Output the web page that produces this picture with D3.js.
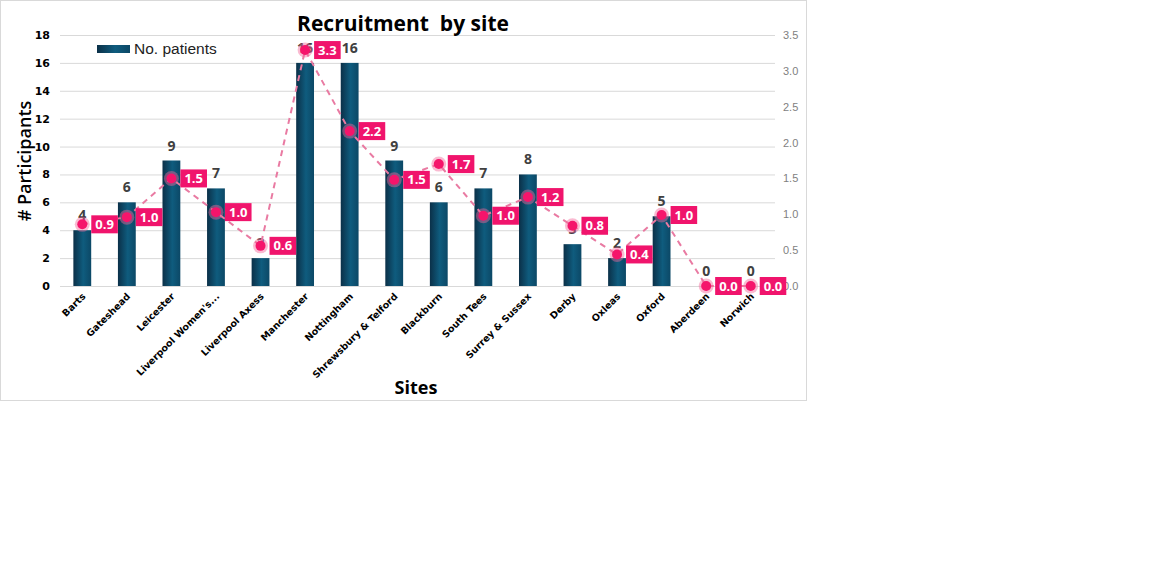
<!DOCTYPE html>
<html><head><meta charset="utf-8">
<script src="https://cdn.jsdelivr.net/npm/d3@7/dist/d3.min.js"></script>
<style>
body{margin:0;background:#fff;}
svg{display:block;}
</style></head>
<body>
<svg id="chart" width="1151" height="564"></svg>
<script>
const sites = ["Barts","Gateshead","Leicester","Liverpool Women's...","Liverpool Axess","Manchester","Nottingham","Shrewsbury & Telford","Blackburn","South Tees","Surrey & Sussex","Derby","Oxleas","Oxford","Aberdeen","Norwich"];
const patients = [4,6,9,7,2,16,16,9,6,7,8,3,2,5,0,0];
const rate = [0.86,0.96,1.5,1.03,0.56,3.29,2.16,1.48,1.7,0.98,1.24,0.84,0.44,0.99,0,0];
const leftTicks = [0,2,4,6,8,10,12,14,16,18];
const rightTicks = [0,0.5,1,1.5,2,2.5,3,3.5];

const svg = d3.select("#chart");
const W = 806, H = 400;
const L = 60, R = 773, T = 35, B = 286;

svg.append("rect").attr("x",0.5).attr("y",0.5).attr("width",W).attr("height",H)
  .attr("fill","#fff").attr("stroke","#d9d9d9");

const defs = svg.append("defs");
const g1 = defs.append("linearGradient").attr("id","barGrad").attr("x1","0").attr("x2","1").attr("y1","0").attr("y2","0");
g1.append("stop").attr("offset","0%").attr("stop-color","#0b3048");
g1.append("stop").attr("offset","55%").attr("stop-color","#0f5c7e");
g1.append("stop").attr("offset","100%").attr("stop-color","#0c4866");

const x = d3.scaleBand().domain(sites).range([L,R]).paddingInner(0.6).paddingOuter(0.3);
const y = d3.scaleLinear().domain([0,18]).range([B,T]);
const y2 = d3.scaleLinear().domain([0,3.5]).range([B,T]);

// gridlines + left axis
const la = svg.append("g").attr("transform",`translate(${L},0)`)
  .call(d3.axisLeft(y).tickValues(leftTicks).tickSize(-(R-L+2)).tickPadding(10));
la.select(".domain").remove();
la.selectAll(".tick line").attr("stroke","#d9d9d9");
la.selectAll(".tick text").attr("font-family","DejaVu Sans, Verdana, sans-serif").attr("font-weight","bold").attr("font-size","11px").attr("fill","#000");

// right axis
const ra = svg.append("g").attr("transform",`translate(${R+2},0)`)
  .call(d3.axisRight(y2).tickValues(rightTicks).tickSize(0).tickPadding(8).tickFormat(d3.format(".1f")));
ra.select(".domain").remove();
ra.selectAll(".tick text").attr("font-family","Liberation Sans, Arial, sans-serif").attr("font-size","11px").attr("fill","#7f7f7f");

// bars
svg.append("g").selectAll("rect").data(sites).join("rect")
  .attr("x",d=>x(d)).attr("width",x.bandwidth())
  .attr("y",(d,i)=>y(patients[i])).attr("height",(d,i)=>B-y(patients[i]))
  .attr("fill","url(#barGrad)");

// bar labels
svg.append("g").selectAll("text").data(sites).join("text")
  .attr("x",d=>x(d)+x.bandwidth()/2).attr("y",(d,i)=>y(patients[i])-10)
  .attr("text-anchor","middle").attr("font-family","Open Sans, sans-serif")
  .attr("font-weight","bold").attr("font-size","14px").attr("fill","#404040")
  .text((d,i)=>patients[i]);

// x labels
svg.append("g").selectAll("text").data(sites).join("text")
  .attr("transform",d=>`translate(${x(d)+x.bandwidth()/2+4},${B+11}) rotate(-45)`)
  .attr("text-anchor","end").attr("font-family","DejaVu Sans, Verdana, sans-serif")
  .attr("font-weight","bold").attr("font-size","9.5px").attr("fill","#000")
  .text(d=>d);

// line
const line = d3.line().x((d,i)=>x(sites[i])+x.bandwidth()/2).y(d=>y2(d));
svg.append("path").datum(rate).attr("d",line).attr("fill","none")
  .attr("stroke","#e97aa2").attr("stroke-width",2).attr("stroke-dasharray","6,5");

const mk = svg.append("g");
mk.selectAll("circle.halo").data(rate).join("circle").attr("class","halo")
  .attr("cx",(d,i)=>x(sites[i])+x.bandwidth()/2).attr("cy",d=>y2(d)).attr("r",7.5)
  .attr("fill","#f5679a").attr("opacity",0.45);
mk.selectAll("circle.dot").data(rate).join("circle").attr("class","dot")
  .attr("cx",(d,i)=>x(sites[i])+x.bandwidth()/2).attr("cy",d=>y2(d)).attr("r",5)
  .attr("fill","#f5156b");

// line labels
const lg = svg.append("g");
rate.forEach((v,i)=>{
  const cx = x(sites[i])+x.bandwidth()/2 + 9, cy = y2(v);
  const g = lg.append("g");
  const r = g.append("rect").attr("fill","#f0146c");
  const t = g.append("text").attr("x",cx+4).attr("y",cy+4.5)
    .attr("font-family","Open Sans, sans-serif").attr("font-weight","bold")
    .attr("font-size","13px").attr("fill","#fff").text(d3.format(".1f")(v));
  const w = t.node().getComputedTextLength();
  r.attr("x",cx).attr("y",cy-9).attr("width",w+8).attr("height",18);
});

// legend
svg.append("rect").attr("x",97).attr("y",45).attr("width",33).attr("height",8).attr("fill","url(#barGrad)");
svg.append("text").attr("x",134).attr("y",54).attr("font-family","Liberation Sans, Arial, sans-serif")
  .attr("font-size","15.5px").attr("fill","#222").text("No. patients");

// title
svg.append("text").attr("x",403).attr("y",31).attr("text-anchor","middle")
  .attr("font-family","Open Sans, sans-serif").attr("font-weight","bold").attr("font-size","21px")
  .style("white-space","pre").attr("fill","#000").text("Recruitment  by site");

// axis titles
svg.append("text").attr("transform","translate(31,161) rotate(-90)").attr("text-anchor","middle")
  .attr("font-family","Open Sans, sans-serif").attr("font-weight","600").attr("font-size","18px").attr("fill","#000").text("# Participants");
svg.append("text").attr("x",416).attr("y",394).attr("text-anchor","middle")
  .attr("font-family","Open Sans, sans-serif").attr("font-weight","bold").attr("font-size","18px").attr("fill","#000").text("Sites");
</script>
</body></html>
